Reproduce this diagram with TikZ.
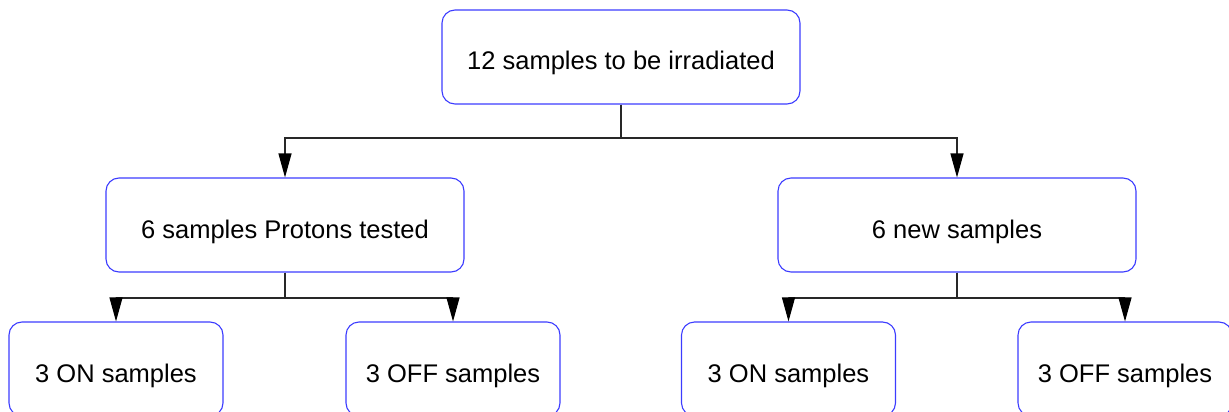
\documentclass[tikz,border=0pt]{standalone}
\usepackage{fontspec}
\setmainfont{Liberation Sans}
\usetikzlibrary{arrows.meta}
\definecolor{boxblue}{RGB}{60,60,255}
\definecolor{linegray}{RGB}{40,40,40}
\tikzset{
  box/.style={draw=boxblue, line width=1.1pt, rounded corners=13pt, fill=white,
    minimum height=94pt, inner sep=0pt, text height=26pt, text depth=0pt,
    font=\fontsize{25.5}{28}\selectfont},
  bigbox/.style={box, minimum width=358pt},
  smallbox/.style={box, minimum width=214pt},
  conn/.style={draw=linegray, line width=1.1pt, -{Triangle[length=24pt,width=13pt,color=black]}},
}
\begin{document}
\begin{tikzpicture}[x=1pt,y=-1pt]
\useasboundingbox (0,0) rectangle (1229,412);
\begin{scope}
\clip (0,0) rectangle (1229,412);
\node[bigbox] (top) at (621,57) {12 samples to be irradiated};
\node[bigbox] (ml) at (285,225) {6 samples Protons tested};
\node[bigbox] (mr) at (957,225) {6 new samples};
\node[smallbox] (lon) at (116,369) {3 ON samples};
\node[smallbox] (loff) at (453,369) {3 OFF samples};
\node[smallbox] (ron) at (788.5,369) {3 ON samples};
\node[smallbox] (roff) at (1125,369) {3 OFF samples};
\coordinate (bus1) at (0,138);
\coordinate (bus2) at (0,298);
\draw[conn] (top.south) -- (top.south |- bus1) -| (ml.north);
\draw[conn] (top.south) -- (top.south |- bus1) -| (mr.north);
\draw[conn] (ml.south) -- (ml.south |- bus2) -| (lon.north);
\draw[conn] (ml.south) -- (ml.south |- bus2) -| (loff.north);
\draw[conn] (mr.south) -- (mr.south |- bus2) -| (ron.north);
\draw[conn] (mr.south) -- (mr.south |- bus2) -| (roff.north);
\end{scope}
\end{tikzpicture}
\end{document}
